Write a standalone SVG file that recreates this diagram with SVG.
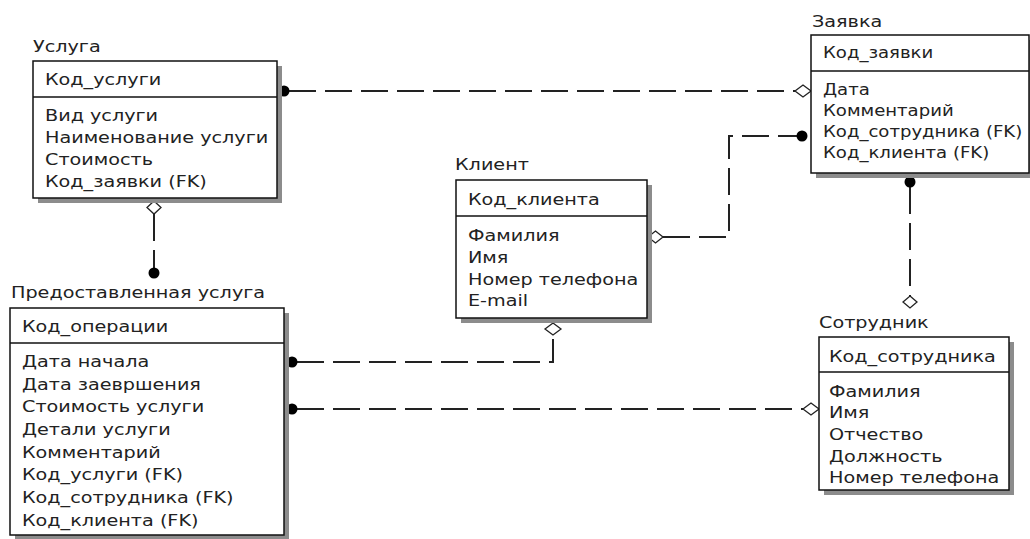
<svg xmlns="http://www.w3.org/2000/svg" width="1030" height="539" viewBox="0 0 1030 539">
<style>
.t{font-family:"DejaVu Sans",sans-serif;font-size:16px;fill:#222}
.box{fill:#fff;stroke:#111;stroke-width:1.5}
.sh{fill:#8c8c8c}
.dv{stroke:#111;stroke-width:1.5}
.cn{fill:none;stroke:#222;stroke-width:2;stroke-dasharray:27 9}
.dot{fill:#000}
.dia{fill:#fff;stroke:#222;stroke-width:1.3}
</style>
<rect width="1030" height="539" fill="#fff"/>
<g id="connectors">
<path class="cn" d="M289,91 H795"/>
<circle class="dot" cx="284" cy="91" r="5.5"/>
<polygon class="dia" points="795,91 803,85 811,91 803,97"/>
<path class="cn" d="M154,214 V268"/>
<polygon class="dia" points="154,201 161,207.5 154,214 147,207.5"/>
<circle class="dot" cx="154" cy="273" r="5.5"/>
<path class="cn" d="M663,237 H729 V136 H797"/>
<polygon class="dia" points="648,237 655.5,231 663,237 655.5,243"/>
<circle class="dot" cx="802" cy="136" r="5.5"/>
<path class="cn" d="M297,362 H553 V335"/>
<circle class="dot" cx="292" cy="362" r="5.5"/>
<polygon class="dia" points="553,323 561,329 553,335 545,329"/>
<path class="cn" d="M297,409 H803"/>
<circle class="dot" cx="292" cy="409" r="5.5"/>
<polygon class="dia" points="803,409 811,403 819,409 811,415"/>
<path class="cn" d="M910,187 V296"/>
<circle class="dot" cx="910" cy="182" r="5.5"/>
<polygon class="dia" points="910,296 917,302 910,308 903,302"/>
</g>
<g id="usluga">
<rect class="sh" x="38" y="66" width="244" height="137"/>
<rect class="box" x="33" y="61" width="244" height="137"/>
<line class="dv" x1="33" y1="97" x2="277" y2="97"/>
<text class="t" transform="translate(33,52) scale(1.2,1)">Услуга</text>
<g transform="translate(45,0) scale(1.2,1)">
<text class="t" y="85">Код_услуги</text>
<text class="t" y="121">Вид услуги</text>
<text class="t" y="143">Наименование услуги</text>
<text class="t" y="165">Стоимость</text>
<text class="t" y="187">Код_заявки (FK)</text>
</g>
</g>
<g id="predostavlennaya">
<rect class="sh" x="15" y="313" width="274" height="227"/>
<rect class="box" x="10" y="308" width="274" height="227"/>
<line class="dv" x1="10" y1="343" x2="284" y2="343"/>
<text class="t" transform="translate(11,298) scale(1.2,1)">Предоставленная услуга</text>
<g transform="translate(22,0) scale(1.2,1)">
<text class="t" y="332">Код_операции</text>
<text class="t" y="367">Дата начала</text>
<text class="t" y="390">Дата заевршения</text>
<text class="t" y="412">Стоимость услуги</text>
<text class="t" y="435">Детали услуги</text>
<text class="t" y="458">Комментарий</text>
<text class="t" y="480">Код_услуги (FK)</text>
<text class="t" y="503">Код_сотрудника (FK)</text>
<text class="t" y="526">Код_клиента (FK)</text>
</g>
</g>
<g id="klient">
<rect class="sh" x="461" y="185" width="191" height="138"/>
<rect class="box" x="456" y="180" width="191" height="138"/>
<line class="dv" x1="456" y1="216" x2="647" y2="216"/>
<text class="t" transform="translate(455,170) scale(1.2,1)">Клиент</text>
<g transform="translate(468,0) scale(1.2,1)">
<text class="t" y="205">Код_клиента</text>
<text class="t" y="241">Фамилия</text>
<text class="t" y="263">Имя</text>
<text class="t" y="285">Номер телефона</text>
<text class="t" y="306">E-mail</text>
</g>
</g>
<g id="zayavka">
<rect class="sh" x="816" y="40" width="218" height="138"/>
<rect class="box" x="811" y="35" width="218" height="138"/>
<line class="dv" x1="811" y1="71" x2="1029" y2="71"/>
<text class="t" transform="translate(812,27) scale(1.2,1)">Заявка</text>
<g transform="translate(823,0) scale(1.13,1)">
<text class="t" y="58">Код_заявки</text>
<text class="t" y="95">Дата</text>
<text class="t" y="116">Комментарий</text>
<text class="t" y="137">Код_сотрудника (FK)</text>
<text class="t" y="158">Код_клиента (FK)</text>
</g>
</g>
<g id="sotrudnik">
<rect class="sh" x="824" y="342" width="190" height="153"/>
<rect class="box" x="819" y="337" width="190" height="153"/>
<line class="dv" x1="819" y1="372" x2="1009" y2="372"/>
<text class="t" transform="translate(819,328) scale(1.2,1)">Сотрудник</text>
<g transform="translate(829,0) scale(1.2,1)">
<text class="t" y="362">Код_сотрудника</text>
<text class="t" y="397">Фамилия</text>
<text class="t" y="418">Имя</text>
<text class="t" y="440">Отчество</text>
<text class="t" y="462">Должность</text>
<text class="t" y="483">Номер телефона</text>
</g>
</g>
</svg>
